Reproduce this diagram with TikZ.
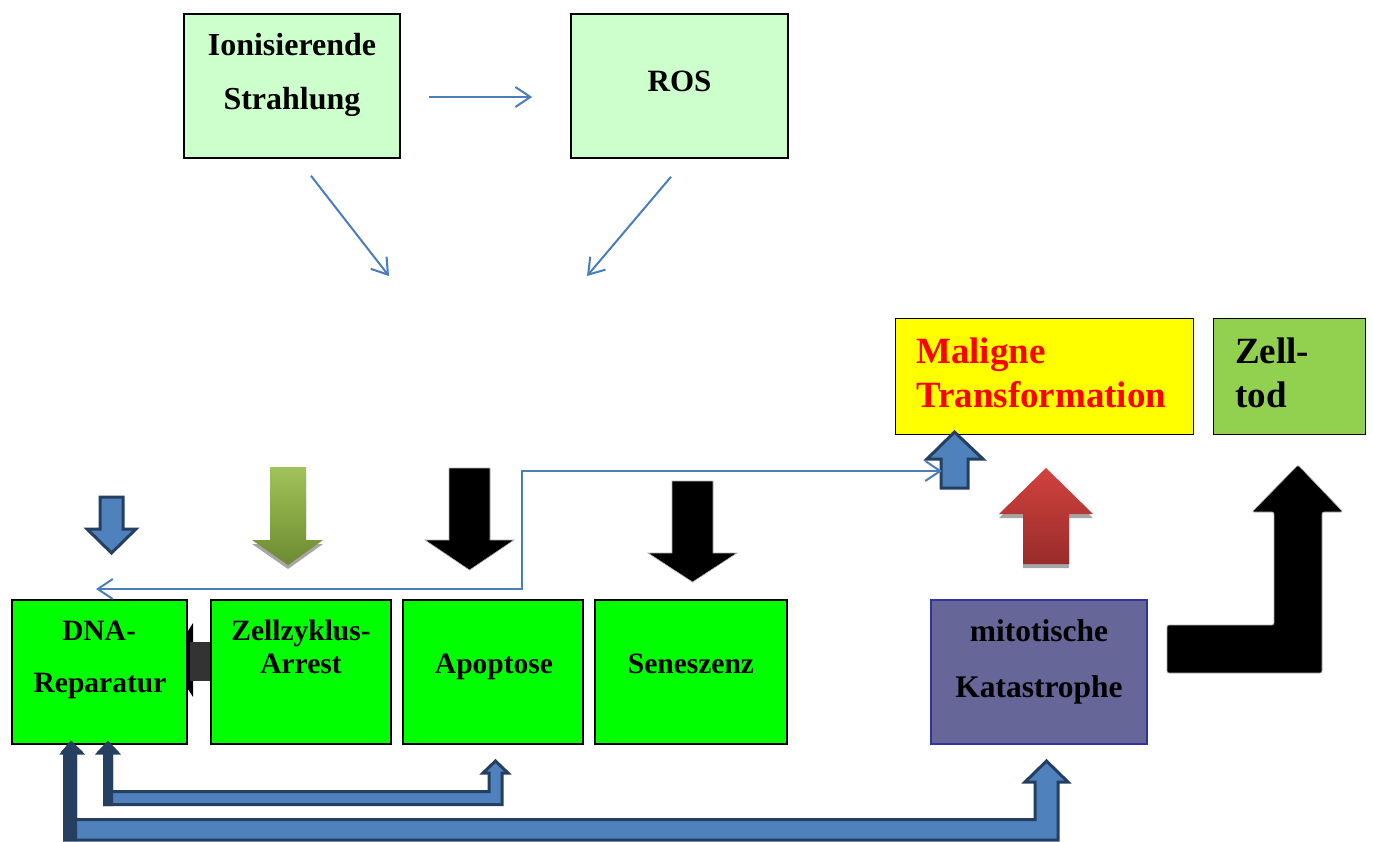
\documentclass[tikz,border=0pt]{standalone}
\usepackage{fontspec}
\setmainfont{Liberation Serif}
\usetikzlibrary{arrows.meta,calc}
\definecolor{paleg}{HTML}{CCFFCC}
\definecolor{brightg}{HTML}{00FF00}
\definecolor{oliveg}{HTML}{92D050}
\definecolor{pureyellow}{HTML}{FFFF00}
\definecolor{lineblue}{HTML}{4A7EBB}
\definecolor{fillblue}{HTML}{4F81BD}
\definecolor{navy}{HTML}{243F60}
\definecolor{purp}{HTML}{666699}
\definecolor{purpedge}{HTML}{3333A0}
\definecolor{darkbody}{HTML}{333333}
\definecolor{greentop}{HTML}{A2C35A}
\definecolor{greenbot}{HTML}{6C8A30}
\definecolor{redtop}{HTML}{D2423F}
\definecolor{redbot}{HTML}{982C2A}
\begin{document}
\begin{tikzpicture}[x=1pt,y=-1pt,
  rbox/.style={draw=black, line width=1.6pt, inner sep=0pt},
  lbl/.style={inner sep=0pt, anchor=base, font=\bfseries\fontsize{29.5}{35}\selectfont},
  toplbl/.style={lbl, font=\bfseries\fontsize{32}{38}\selectfont},
  biglbl/.style={inner sep=0pt, anchor=base west, font=\bfseries\fontsize{37}{44}\selectfont},
  conn/.style={draw=lineblue, line width=2pt, -{Straight Barb[length=15pt,width=20pt]}},
  bluearrow/.style={fill=fillblue, draw=navy, line width=3pt, line join=miter},
  blackarrow/.style={fill=black, draw=gray!60, line width=0.6pt}
]
\useasboundingbox[fill=white] (0,0) rectangle (1373,841);

% top boxes
\node[rbox, fill=paleg, minimum width=216pt, minimum height=144pt] (ion) at (292,86) {};
\node[rbox, fill=paleg, minimum width=217pt, minimum height=144pt] (ros) at (679.5,86) {};
\node[toplbl] (t1) at (292,55) {Ionisierende};
\node[toplbl] (t2) at (292,109) {Strahlung};
\node[lbl, font=\bfseries\fontsize{31}{37}\selectfont] (t3) at (679.5,91) {ROS};

% thin connectors
\coordinate (cv1) at (389,276);
\coordinate (cv2) at (587,276);
\draw[conn, shorten <=28pt, shorten >=38pt] ([yshift=-11pt]ion.east) -- ([yshift=-11pt]ros.west);
\draw[conn] ($(ion.south)+(19,17)$) -- (cv1);
\draw[conn] ($(ros.south)+(-8.5,18)$) -- (cv2);

% right top boxes
\node[rbox, line width=1pt, fill=pureyellow, minimum width=298pt, minimum height=116pt] (mal) at (1044,376) {};
\node[rbox, line width=1pt, fill=oliveg, minimum width=152pt, minimum height=116pt] (tod) at (1289,376) {};
\node[biglbl, text=red] (t4) at (916,363) {Maligne};
\node[biglbl, text=red] (t5) at (916,407) {Transformation};
\node[biglbl] (t6) at (1235,363) {Zell-};
\node[biglbl] (t7) at (1235,407) {tod};

% small dark arrow Zellzyklus -> DNA (head mostly behind DNA box)
\fill[black] (193,623) -- (193,697) -- (170,660) -- cycle;
\fill[darkbody] (211,642) -- (190,642) -- (190,681) -- (211,681) -- cycle;

% bottom boxes
\node[rbox, fill=brightg, minimum width=175pt, minimum height=144pt] (dna) at (99.5,672) {};
\node[rbox, fill=brightg, minimum width=180pt, minimum height=144pt] (zyk) at (301,672) {};
\node[rbox, fill=brightg, minimum width=180pt, minimum height=144pt] (apo) at (493,672) {};
\node[rbox, fill=brightg, minimum width=192pt, minimum height=144pt] (sen) at (691,672) {};
\node[rbox, draw=purpedge, line width=1.5pt, fill=purp, minimum width=216pt, minimum height=144pt] (mit) at (1039,672) {};
\node[lbl] (t8) at (99,640) {DNA-};
\node[lbl] (t9) at (100,692) {Reparatur};
\node[lbl] (t10) at (301,640) {Zellzyklus-};
\node[lbl] (t11) at (301,673) {Arrest};
\node[lbl] (t12) at (494,673) {Apoptose};
\node[lbl] (t13) at (691,673) {Seneszenz};
\node[lbl, font=\bfseries\fontsize{31.5}{37}\selectfont] (t14) at (1039,641) {mitotische};
\node[lbl, font=\bfseries\fontsize{31.5}{37}\selectfont] (t15) at (1039,697) {Katastrophe};

% block arrows
\draw[bluearrow] (100,497) -- (123,497) -- (123,529) -- (136,529) -- (111.5,553) -- (87,529) -- (100,529) -- cycle;
\fill[gray!70] (270,471) -- (306,471) -- (306,544) -- (323,544) -- (288,569) -- (252,544) -- (270,544) -- cycle;
\shade[top color=greentop, bottom color=greenbot] (270,467) -- (306,467) -- (306,540) -- (323,540) -- (288,565) -- (252,540) -- (270,540) -- cycle;
\filldraw[blackarrow] (449,468) -- (490,468) -- (490,540) -- (514,540) -- (469.5,570) -- (425,540) -- (449,540) -- cycle;
\filldraw[blackarrow] (672,481) -- (713,481) -- (713,553) -- (737,553) -- (692.5,582) -- (648,553) -- (672,553) -- cycle;
\draw[bluearrow] (941,488) -- (968,488) -- (968,459) -- (983,459) -- (954.5,432) -- (927,459) -- (941,459) -- cycle;
\fill[gray!70] (1023,568) -- (1069,568) -- (1069,518) -- (1093,518) -- (1046,472) -- (999,518) -- (1023,518) -- cycle;
\shade[top color=redtop, bottom color=redbot] (1023,564) -- (1069,564) -- (1069,514) -- (1093,514) -- (1046,468) -- (999,514) -- (1023,514) -- cycle;
\filldraw[blackarrow, rounded corners=2pt] (1167,625) -- (1274,625) -- (1274,512) -- (1252,512) -- (1298,465) -- (1343,512) -- (1322,512) -- (1322,673) -- (1167,673) -- cycle;

% feedback connector
\coordinate (fbL) at (96,589);
\coordinate (fbR) at (942,471);
\draw[conn, {Straight Barb[length=15pt,width=20pt]}-{Straight Barb[length=15pt,width=20pt]}] (fbL) -- (522,589) -- (522,471) -- (fbR);

% bottom bent arrows
\draw[bluearrow] (104.5,804.5) -- (104.5,753) -- (98.5,753) -- (108,743) -- (117.5,753) -- (111.5,753) -- (111.5,791.5) -- (489,791.5) -- (489,773) -- (483,773) -- (495.5,761) -- (508,773) -- (502,773) -- (502,804.5) -- cycle;
\fill[navy] (103,806) -- (103,752) -- (97,752) -- (108,741) -- (119,752) -- (113,752) -- (113,806) -- cycle;
\draw[bluearrow] (64.5,840) -- (64.5,753) -- (62.5,753) -- (71,742.5) -- (81.5,753) -- (75.5,753) -- (75.5,819.5) -- (1035,819.5) -- (1035,782) -- (1025,782) -- (1046.5,761) -- (1068,782) -- (1058,782) -- (1058,840) -- cycle;
\fill[navy] (63,841) -- (63,752) -- (61,752) -- (71,741) -- (83,752) -- (77,752) -- (77,841) -- cycle;
\end{tikzpicture}
\end{document}
